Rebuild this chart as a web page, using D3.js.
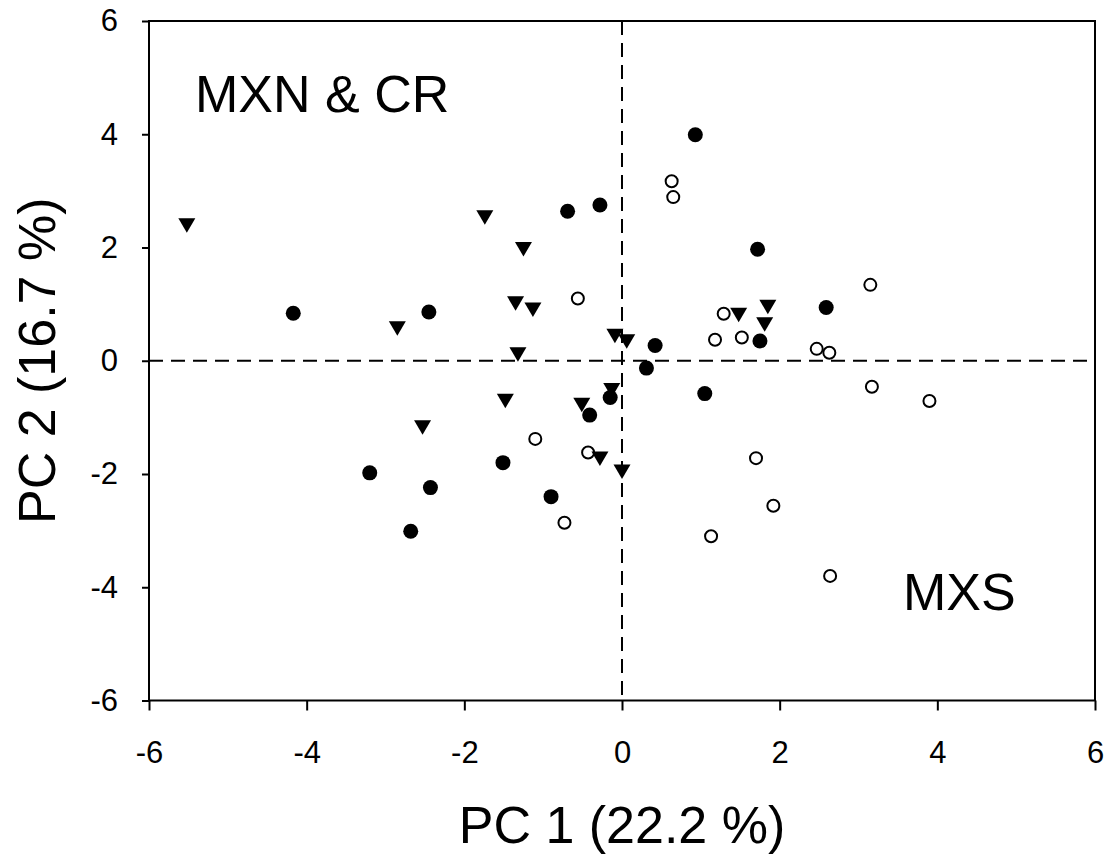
<!DOCTYPE html>
<html>
<head>
<meta charset="utf-8">
<title>PCA scatter</title>
<style>
  body { margin: 0; background: #fff; }
  text { font-family: "Liberation Sans", Arial, sans-serif; fill: #000; }
  .axis path, .axis line { stroke: #000; stroke-width: 2px; }
</style>
</head>
<body>
<script src="https://d3js.org/d3.v7.min.js"></script>
<script>
// filled circles
var filledPts = [
  [-4.17, 0.84], [-2.45, 0.86], [-0.69, 2.64], [-0.28, 2.75], [0.93, 3.99],
  [1.72, 1.97], [2.59, 0.94], [1.75, 0.35], [0.42, 0.27], [0.31, -0.13],
  [-3.20, -1.98], [-2.43, -2.24], [-2.68, -3.01], [-1.51, -1.80], [-0.90, -2.40],
  [-0.41, -0.96], [-0.15, -0.65], [1.05, -0.58]
];
// open circles
var openPts = [
  [-0.56, 1.10], [0.63, 3.17], [0.65, 2.89], [3.15, 1.34], [1.29, 0.83],
  [1.18, 0.37], [1.52, 0.41], [2.47, 0.21], [2.63, 0.14], [-1.10, -1.38],
  [-0.73, -2.86], [-0.43, -1.62], [3.17, -0.46], [3.90, -0.71], [1.70, -1.72],
  [1.92, -2.56], [1.13, -3.10], [2.64, -3.80]
];
// down triangles
var triPts = [
  [-5.52, 2.42], [-2.85, 0.60], [-1.74, 2.56], [-1.25, 2.00], [-1.35, 1.04],
  [-1.13, 0.93], [-1.32, 0.14], [-0.09, 0.47], [0.06, 0.37], [1.48, 0.84],
  [1.85, 0.98], [1.81, 0.67], [-1.48, -0.68], [-2.53, -1.15], [-0.51, -0.75],
  [-0.28, -1.70], [-0.13, -0.49], [0.00, -1.93]
];
var ticks = [-6, -4, -2, 0, 2, 4, 6];
var xTitle = "PC 1 (22.2 %)";
var yTitle = "PC 2 (16.7 %)";

var W = 1111, H = 861;
var plotL = 149, plotR = 1095, plotT = 21, plotB = 700.5;

var svg = d3.select("body").append("svg")
  .attr("width", W).attr("height", H);

var x = d3.scaleLinear().domain([-6, 6]).range([plotL, plotR]);
var y = d3.scaleLinear().domain([-6, 6]).range([plotB, plotT]);

function fmt(d) { return String(d); }  // plain hyphen minus like the original

// frame
svg.append("rect")
  .attr("x", plotL).attr("y", plotT)
  .attr("width", plotR - plotL).attr("height", plotB - plotT)
  .attr("fill", "none").attr("stroke", "#000").attr("stroke-width", 2);

// axes
var gx = svg.append("g").attr("class", "axis")
  .attr("transform", "translate(0," + plotB + ")")
  .call(d3.axisBottom(x).tickValues(ticks).tickFormat(fmt).tickSize(10).tickPadding(30).tickSizeOuter(0));
gx.select(".domain").remove();

var gy = svg.append("g").attr("class", "axis")
  .attr("transform", "translate(" + plotL + ",0)")
  .call(d3.axisLeft(y).tickValues(ticks).tickFormat(fmt).tickSize(7).tickPadding(24).tickSizeOuter(0));
gy.select(".domain").remove();

svg.selectAll(".axis text")
  .style("font-size", "31px")
  .style("font-family", "'Liberation Sans', Arial, sans-serif");

// dashed zero lines
svg.append("line")
  .attr("x1", plotL).attr("x2", plotR)
  .attr("y1", y(0)).attr("y2", y(0))
  .attr("stroke", "#000").attr("stroke-width", 2).attr("stroke-dasharray", "14,8");
svg.append("line")
  .attr("x1", x(0)).attr("x2", x(0))
  .attr("y1", plotT).attr("y2", plotB)
  .attr("stroke", "#000").attr("stroke-width", 2).attr("stroke-dasharray", "14,8");

// points
svg.selectAll(".filled").data(filledPts).enter().append("circle")
  .attr("class", "filled")
  .attr("cx", function(d){ return x(d[0]); })
  .attr("cy", function(d){ return y(d[1]); })
  .attr("r", 7.5).attr("fill", "#000");

svg.selectAll(".open").data(openPts).enter().append("circle")
  .attr("class", "open")
  .attr("cx", function(d){ return x(d[0]); })
  .attr("cy", function(d){ return y(d[1]); })
  .attr("r", 6).attr("fill", "#fff").attr("stroke", "#000").attr("stroke-width", 2);

var tri = "M-8.5,-5.5L8.5,-5.5L0,9Z";
svg.selectAll(".tri").data(triPts).enter().append("path")
  .attr("class", "tri")
  .attr("d", tri)
  .attr("transform", function(d){ return "translate(" + x(d[0]) + "," + y(d[1]) + ")"; })
  .attr("fill", "#000");

// group labels
svg.append("text").attr("x", 195).attr("y", 112)
  .style("font-size", "52px").text("MXN & CR");
svg.append("text").attr("x", 903).attr("y", 610)
  .style("font-size", "52px").text("MXS");

// axis titles
svg.append("text").attr("x", (plotL + plotR) / 2).attr("y", 843)
  .attr("text-anchor", "middle").style("font-size", "52px").text(xTitle);
svg.append("text")
  .attr("transform", "translate(55," + ((plotT + plotB) / 2) + ") rotate(-90)")
  .attr("text-anchor", "middle").style("font-size", "52px").text(yTitle);
</script>
</body>
</html>
